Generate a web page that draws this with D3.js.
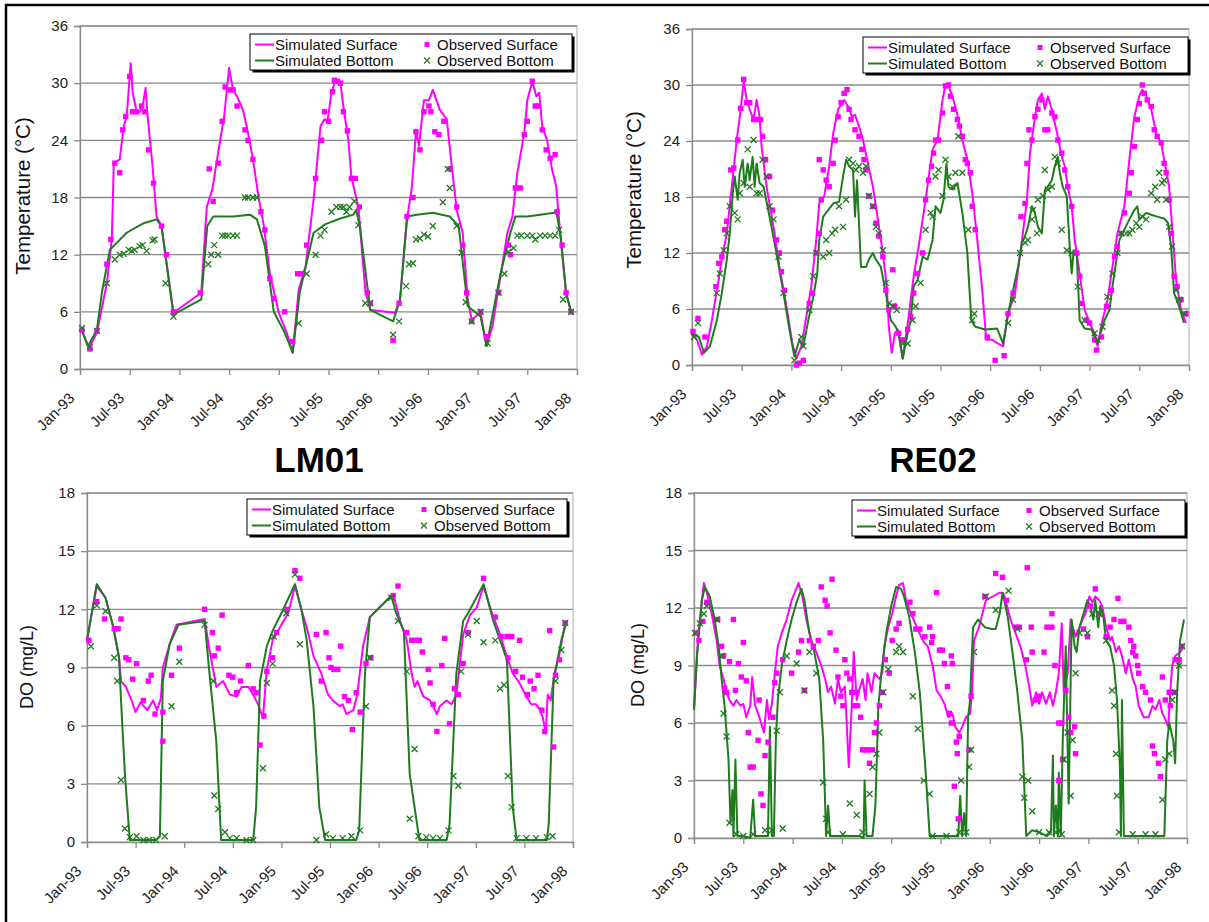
<!DOCTYPE html>
<html><head><meta charset="utf-8">
<script src="https://cdn.jsdelivr.net/npm/d3@7"></script>
<style>body{margin:0;background:#fff} text{font-family:Arial,"Liberation Sans",sans-serif}</style>
</head><body><svg id="c" width="1209" height="922"></svg>
<script>
// ---------- tick labels ----------
const xTickLabels = ["Jan-93","Jul-93","Jan-94","Jul-94","Jan-95","Jul-95","Jan-96","Jul-96","Jan-97","Jul-97","Jan-98"];
const tempTicks = [0,6,12,18,24,30,36];
const doTicks = [0,3,6,9,12,15,18];
const legendLabels = ["Simulated Surface","Observed Surface","Simulated Bottom","Observed Bottom"];
const stationTitles = ["LM01","RE02"];

// ---------- data: [years since Jan-93, value] ----------
const lm01TempSimSurf = [[0.01,4.3],[0.09,2.2],[0.17,3.8],[0.27,9],[0.32,13.6],[0.34,21.6],[0.40,22],[0.44,25.5],[0.47,26.5],[0.51,32.1],[0.53,29],[0.57,27],[0.60,27],[0.63,27.6],[0.66,29.5],[0.68,26.5],[0.73,21.3],[0.77,16],[0.82,15],[0.94,5.9],[1.22,8],[1.275,17],[1.33,18.8],[1.39,22.7],[1.45,26.5],[1.50,31.6],[1.54,29.3],[1.58,28.6],[1.64,27.2],[1.69,24.8],[1.74,22],[1.80,17.8],[1.85,15],[1.91,10],[2.0,5.9],[2.08,3.8],[2.14,1.7],[2.20,8.3],[2.27,10.8],[2.35,17.8],[2.42,25.5],[2.46,26.2],[2.49,26],[2.53,29],[2.57,30.3],[2.62,30],[2.65,27.5],[2.70,24],[2.73,20.2],[2.80,17],[2.87,8.3],[2.92,6.2],[3.17,5.9],[3.22,7.3],[3.29,15.7],[3.34,19.2],[3.38,25],[3.41,23.4],[3.46,28.2],[3.51,28.2],[3.55,29.3],[3.62,27.2],[3.69,26.2],[3.74,21.3],[3.79,16.7],[3.85,14.3],[3.90,7.3],[3.94,5.2],[4.03,5.9],[4.09,2.4],[4.15,4.5],[4.23,9.7],[4.30,14.3],[4.35,16],[4.40,20.6],[4.47,24.8],[4.50,28.2],[4.55,30.2],[4.59,28.6],[4.62,29],[4.65,25.5],[4.70,24],[4.75,20.9],[4.79,19.2],[4.84,13.2],[4.89,8],[4.94,6]];
const lm01TempSimBot = [[0.01,4.3],[0.08,2.4],[0.17,4.1],[0.22,8],[0.30,12.5],[0.47,14.3],[0.64,15.3],[0.77,15.7],[0.82,15],[0.94,5.7],[1.22,7.3],[1.28,15],[1.34,16],[1.54,16],[1.71,16.2],[1.78,15.7],[1.86,12.9],[1.95,6],[2.06,3.8],[2.14,1.7],[2.21,8],[2.35,14.3],[2.47,15.2],[2.62,15.8],[2.75,16.2],[2.78,16.7],[2.82,14.6],[2.92,6.2],[3.15,5],[3.22,7.3],[3.29,16],[3.39,16.2],[3.55,16.4],[3.72,16],[3.81,15],[3.90,6.6],[4.03,5.5],[4.09,2.4],[4.23,10],[4.33,14.3],[4.38,16],[4.50,16],[4.63,16.2],[4.77,16.4],[4.79,16.7],[4.84,13.6],[4.89,8],[4.94,6]];
const lm01TempObsSurf = [[0.02,4.1],[0.10,2.1],[0.17,4],[0.27,11],[0.31,13.6],[0.35,21.6],[0.40,20.6],[0.43,25.1],[0.46,26.5],[0.50,30.7],[0.53,27],[0.57,27],[0.62,27.6],[0.65,27],[0.69,23],[0.74,19.5],[0.82,15],[0.87,12],[0.94,6],[1.21,8],[1.30,21],[1.34,17.6],[1.39,21.6],[1.43,26],[1.46,29.6],[1.51,29.3],[1.54,29.3],[1.58,27.6],[1.66,25.1],[1.69,24],[1.74,22],[1.82,16.5],[1.86,14.6],[1.91,9.5],[1.95,7.4],[2.06,6],[2.14,2.9],[2.19,10],[2.23,10],[2.28,13],[2.37,20],[2.43,24],[2.46,27],[2.50,26],[2.54,29.1],[2.56,30.3],[2.59,30.2],[2.62,30],[2.65,27],[2.69,25],[2.73,20],[2.77,20],[2.81,17],[2.89,8],[2.92,6.9],[3.15,3],[3.21,6.9],[3.29,16],[3.35,18],[3.38,24.9],[3.42,23],[3.46,27],[3.51,27.6],[3.53,27],[3.57,24.9],[3.61,24.6],[3.66,26],[3.72,21],[3.79,17],[3.85,13],[3.89,8],[3.94,5],[4.03,6],[4.09,3.4],[4.21,8],[4.31,13],[4.33,12],[4.38,19],[4.43,19],[4.47,24.6],[4.50,26],[4.55,30.2],[4.58,27.6],[4.61,27.6],[4.65,25.1],[4.69,23],[4.73,22.1],[4.78,22.5],[4.80,16.5],[4.85,13],[4.89,8],[4.94,6]];
const lm01TempObsBot = [[0.02,4.3],[0.10,2.3],[0.17,4],[0.27,9],[0.35,11.5],[0.40,12],[0.44,12.1],[0.49,12.5],[0.52,12.4],[0.55,12.5],[0.60,12.9],[0.63,13],[0.67,12.4],[0.73,13.5],[0.75,13.6],[0.86,9],[0.94,5.5],[1.29,11],[1.32,12],[1.35,13],[1.39,12],[1.43,14],[1.46,14],[1.49,14],[1.54,14],[1.58,14],[1.66,18],[1.69,18],[1.74,18],[1.78,18],[2.20,4.8],[2.28,10],[2.37,12],[2.42,14],[2.46,14.6],[2.53,16.5],[2.58,17],[2.62,17],[2.65,17],[2.68,16.5],[2.71,17],[2.76,17.6],[2.80,15.1],[2.87,6.9],[2.92,6.9],[3.15,3.6],[3.21,5],[3.28,8.7],[3.31,11],[3.35,11.1],[3.38,13.6],[3.42,13.7],[3.46,14.1],[3.50,13.9],[3.55,15],[3.65,17.5],[3.70,21],[3.72,19],[3.79,15],[3.84,12.2],[3.88,7],[3.94,5],[4.03,6],[4.10,2.7],[4.21,8],[4.27,10],[4.31,12.3],[4.36,12.7],[4.40,14],[4.44,14],[4.50,14],[4.55,14],[4.58,13.6],[4.63,14],[4.68,14],[4.73,14],[4.78,14],[4.82,14.6],[4.86,7.3],[4.94,6]];

const re02TempSimSurf = [[0,3.4],[0.05,2.7],[0.10,1.1],[0.15,2.0],[0.20,4.8],[0.25,8.0],[0.30,11.3],[0.35,14.1],[0.40,19.1],[0.45,24.1],[0.49,27.4],[0.52,30.4],[0.55,28.4],[0.58,27.4],[0.62,26.3],[0.65,28.4],[0.68,26.6],[0.70,23.4],[0.75,19.1],[0.82,14.8],[0.88,10.5],[0.95,6.3],[1.01,2.3],[1.05,0.7],[1.10,2.0],[1.15,5.2],[1.20,8.4],[1.25,13.4],[1.28,17.3],[1.33,18.1],[1.38,21.3],[1.42,24.8],[1.47,27.4],[1.53,28.4],[1.57,27.7],[1.61,26.6],[1.64,26.8],[1.68,25.6],[1.72,24.1],[1.77,21.6],[1.82,19.1],[1.87,15.6],[1.92,12.0],[1.96,8.4],[1.98,4.1],[2.01,1.3],[2.04,3.4],[2.07,3.8],[2.12,0.7],[2.18,5.2],[2.23,9.5],[2.28,12.7],[2.35,17.7],[2.42,23.1],[2.47,24.1],[2.52,28.4],[2.55,30.0],[2.58,29.9],[2.62,28.8],[2.67,26.8],[2.72,24.1],[2.77,22.0],[2.82,18.4],[2.87,13.4],[2.92,8.0],[2.96,2.7],[3.02,2.7],[3.08,2.3],[3.13,2.0],[3.18,5.5],[3.25,7.7],[3.32,13.4],[3.37,17.7],[3.40,22.7],[3.45,26.6],[3.48,28.4],[3.52,29.1],[3.55,27.4],[3.58,28.8],[3.62,27.4],[3.65,25.9],[3.68,24.5],[3.72,22.3],[3.75,21.3],[3.78,19.1],[3.82,17.0],[3.85,13.4],[3.90,9.8],[3.95,5.9],[4.00,4.5],[4.05,3.4],[4.08,2.0],[4.13,4.8],[4.18,7.0],[4.23,10.5],[4.28,14.1],[4.35,17.0],[4.40,22.0],[4.45,26.6],[4.50,28.8],[4.53,29.5],[4.57,28.8],[4.62,27.4],[4.67,24.8],[4.72,23.8],[4.75,22.0],[4.80,19.1],[4.83,14.8],[4.87,9.1],[4.92,5.9],[4.97,4.5]];
const re02TempSimBot = [[0,3.4],[0.07,3.0],[0.12,1.3],[0.18,2.0],[0.25,4.8],[0.30,7.7],[0.35,11.3],[0.38,14.1],[0.41,18.4],[0.43,20.2],[0.46,17.7],[0.48,20.6],[0.51,22.0],[0.53,19.1],[0.56,21.6],[0.58,19.8],[0.61,22.3],[0.63,19.1],[0.65,21.6],[0.68,19.5],[0.72,19.1],[0.78,15.9],[0.85,12.0],[0.92,7.7],[0.98,3.8],[1.03,0.9],[1.08,2.7],[1.12,2.0],[1.17,4.8],[1.22,7.3],[1.26,9.8],[1.28,13.4],[1.32,15.9],[1.37,16.6],[1.42,17.3],[1.48,17.5],[1.52,20.2],[1.55,22.0],[1.58,21.3],[1.62,20.9],[1.64,15.9],[1.66,19.8],[1.68,15.2],[1.70,10.5],[1.75,10.5],[1.78,11.3],[1.82,12.0],[1.85,11.3],[1.90,10.5],[1.95,7.7],[2.0,4.8],[2.05,4.1],[2.08,3.4],[2.12,0.7],[2.17,3.4],[2.20,4.8],[2.23,8.4],[2.27,9.1],[2.32,11.6],[2.37,11.3],[2.42,13.4],[2.45,17.0],[2.50,16.3],[2.53,17.7],[2.56,21.6],[2.58,19.1],[2.62,18.8],[2.67,19.5],[2.72,16.3],[2.77,12.0],[2.81,4.8],[2.85,4.1],[2.95,3.8],[3.07,3.9],[3.13,2.3],[3.18,5.5],[3.23,8.0],[3.28,10.5],[3.32,13.1],[3.35,13.8],[3.38,14.8],[3.42,17.0],[3.45,16.3],[3.48,14.8],[3.52,14.1],[3.55,18.8],[3.58,19.1],[3.62,19.8],[3.65,21.3],[3.68,22.3],[3.70,20.6],[3.73,19.1],[3.77,18.1],[3.80,12.7],[3.82,9.8],[3.84,12.3],[3.87,12.0],[3.90,4.8],[3.95,3.9],[4.02,3.8],[4.08,2.3],[4.15,4.8],[4.20,5.9],[4.23,8.4],[4.27,11.3],[4.30,13.4],[4.35,14.5],[4.40,15.6],[4.45,16.6],[4.48,17.0],[4.50,15.6],[4.53,15.9],[4.57,16.3],[4.62,16.1],[4.68,15.9],[4.75,15.7],[4.79,15.2],[4.82,12.7],[4.85,7.7],[4.90,6.3],[4.95,4.5]];
const re02TempObsSurf = [[0.01,3.6],[0.06,5.0],[0.13,3.0],[0.24,8.4],[0.27,10.9],[0.30,11.6],[0.33,14.5],[0.35,15.4],[0.39,20.9],[0.42,21.1],[0.46,24.1],[0.49,27.5],[0.52,30.6],[0.55,28.1],[0.58,28.1],[0.62,26.3],[0.65,26.3],[0.69,26.3],[0.71,24.5],[0.74,22.0],[0.78,20.2],[0.81,16.6],[0.85,13.4],[0.88,12.0],[0.90,10.0],[0.93,8.0],[1.05,0],[1.08,0.2],[1.12,0.5],[1.18,6.6],[1.21,7.7],[1.25,12.0],[1.28,14.1],[1.30,17.7],[1.28,22],[1.32,20.9],[1.35,19.8],[1.38,19.1],[1.42,21.6],[1.44,24.1],[1.47,26.6],[1.50,28.1],[1.53,29.1],[1.56,29.5],[1.58,27.4],[1.60,26.3],[1.64,25.2],[1.68,24.5],[1.71,23.1],[1.73,22.0],[1.75,20.9],[1.78,18.1],[1.82,17.0],[1.85,15.2],[1.88,13.8],[1.92,11.6],[1.95,8.0],[1.98,5.9],[2.02,10.2],[2.04,6.3],[2.08,3.4],[2.12,2.7],[2.17,3.8],[2.20,5.2],[2.23,7.7],[2.27,9.8],[2.32,12.0],[2.35,17.7],[2.38,19.8],[2.41,21.3],[2.43,22.7],[2.45,24.1],[2.48,24.1],[2.52,27.0],[2.55,29.9],[2.58,30.0],[2.60,28.8],[2.63,27.4],[2.67,26.3],[2.69,25.6],[2.72,24.5],[2.75,22.0],[2.77,21.6],[2.80,20.6],[2.82,17.0],[2.85,14.5],[2.97,3.0],[3.05,0.5],[3.14,1.0],[3.18,5.5],[3.23,7.7],[3.31,15.9],[3.35,17.3],[3.37,21.6],[3.39,25.2],[3.42,24.1],[3.45,26.6],[3.48,27.4],[3.52,28.4],[3.55,25.2],[3.58,25.2],[3.62,27.0],[3.65,26.6],[3.68,24.1],[3.72,22.7],[3.75,20.9],[3.78,19.1],[3.82,17.0],[3.87,12.0],[3.90,9.5],[3.92,6.6],[3.97,4.8],[4.0,4.5],[4.05,2.7],[4.07,1.6],[4.12,3.0],[4.17,6.3],[4.22,8.0],[4.25,11.6],[4.28,12.7],[4.32,14.1],[4.35,16.3],[4.40,18.4],[4.42,20.6],[4.45,23.4],[4.48,26.3],[4.50,28.0],[4.53,30.0],[4.55,29.1],[4.58,28.4],[4.62,27.7],[4.65,25.2],[4.68,24.5],[4.72,23.8],[4.75,21.6],[4.77,20.6],[4.80,17.7],[4.82,14.1],[4.85,9.5],[4.88,8.4],[4.92,7.0],[4.97,5.5]];
const re02TempObsBot = [[0.02,3.0],[0.06,4.5],[0.25,7.7],[0.28,9.8],[0.32,12.3],[0.35,14.1],[0.38,17.0],[0.43,16.3],[0.46,15.6],[0.48,18.4],[0.52,19.5],[0.56,23.1],[0.58,19.1],[0.62,24.1],[0.65,18.4],[0.68,18.4],[0.71,22.0],[0.75,20.2],[0.78,17.0],[0.82,15.6],[0.87,11.6],[0.92,7.7],[1.03,0.5],[1.10,3.0],[1.12,2.0],[1.18,5.9],[1.22,9.5],[1.25,12.0],[1.32,11.6],[1.35,13.4],[1.38,12.0],[1.41,14.1],[1.44,14.5],[1.48,17.0],[1.52,14.8],[1.55,17.7],[1.58,22.0],[1.62,21.6],[1.65,20.9],[1.68,21.3],[1.72,20.6],[1.75,21.3],[1.78,18.1],[1.82,17.0],[1.85,14.8],[1.88,14.1],[1.92,12.3],[1.95,8.8],[1.98,6.6],[2.02,6.3],[2.06,5.9],[2.12,2.3],[2.17,2.3],[2.22,4.8],[2.25,6.3],[2.30,8.8],[2.35,14.5],[2.40,16.3],[2.42,15.9],[2.45,20.2],[2.48,20.9],[2.52,18.1],[2.55,22.0],[2.58,20.2],[2.62,19.1],[2.65,20.6],[2.68,24.5],[2.72,20.6],[2.78,14.5],[2.82,4.8],[2.84,5.5],[3.18,4.5],[3.23,7.0],[3.30,12.0],[3.35,13.1],[3.38,13.4],[3.42,15.6],[3.43,16.6],[3.47,14.1],[3.48,17.7],[3.53,18.1],[3.55,20.9],[3.58,18.8],[3.62,19.1],[3.65,22.3],[3.68,21.6],[3.72,14.5],[3.77,12.3],[3.82,12.0],[3.88,8.4],[3.95,4.8],[4.05,3.4],[4.08,2.7],[4.13,4.1],[4.18,7.3],[4.23,9.8],[4.28,12.0],[4.32,14.1],[4.37,14.1],[4.40,14.1],[4.43,14.5],[4.47,15.2],[4.50,14.8],[4.53,15.9],[4.57,15.6],[4.62,18.4],[4.66,19.1],[4.68,17.7],[4.70,20.6],[4.73,19.5],[4.75,19.8],[4.77,17.7],[4.80,14.8],[4.83,12.7],[4.87,8.0],[4.90,7.0],[4.95,5.5]];

const lm01DoSimSurf = [[0,10.4],[0.10,13.2],[0.19,12.6],[0.27,11.1],[0.33,9.5],[0.35,8.3],[0.40,8.0],[0.46,7.3],[0.50,6.7],[0.55,7.2],[0.62,6.8],[0.68,7.3],[0.72,6.8],[0.76,7.4],[0.78,9.0],[0.85,10.2],[0.92,11.2],[1.21,11.5],[1.26,9.9],[1.33,8.0],[1.40,8.3],[1.47,7.6],[1.54,7.5],[1.59,8.0],[1.66,8.0],[1.71,7.6],[1.76,7.1],[1.81,6.4],[1.85,8.9],[1.91,10.4],[2.0,11.2],[2.07,11.8],[2.14,13.2],[2.21,11.9],[2.26,11.1],[2.33,9.6],[2.41,8.7],[2.48,7.6],[2.53,7.3],[2.60,7.0],[2.63,7.1],[2.67,6.6],[2.74,6.8],[2.78,7.6],[2.84,10.1],[2.91,11.6],[3.11,12.6],[3.15,12.8],[3.22,11.4],[3.29,10.4],[3.34,8.7],[3.37,8.0],[3.40,8.3],[3.46,7.5],[3.53,7.3],[3.60,6.6],[3.63,7.0],[3.70,7.3],[3.75,7.1],[3.80,7.6],[3.87,10.7],[3.94,11.7],[4.01,12.1],[4.08,13.2],[4.16,11.9],[4.25,10.7],[4.31,9.7],[4.38,8.7],[4.45,8.2],[4.52,7.5],[4.57,7.1],[4.62,7.1],[4.66,6.8],[4.69,6.4],[4.72,5.6],[4.74,7.6],[4.77,7.3],[4.81,8.7],[4.86,9.7],[4.92,11.3]];
const lm01DoSimBot = [[0,10.4],[0.10,13.3],[0.19,12.6],[0.27,11.1],[0.33,9.5],[0.35,7.3],[0.39,3.5],[0.44,0.1],[0.71,0.1],[0.75,0.3],[0.78,8.3],[0.85,10.2],[0.94,11.2],[1.21,11.4],[1.26,8.7],[1.33,5.2],[1.38,0.1],[1.71,0.1],[1.74,1.8],[1.78,8.3],[1.85,10.1],[1.91,10.9],[2.0,11.8],[2.14,13.3],[2.21,11.9],[2.26,10.4],[2.33,7.0],[2.39,1.8],[2.45,0.1],[2.77,0.1],[2.80,0.6],[2.86,8.7],[2.91,11.6],[3.13,12.7],[3.18,11.8],[3.26,10.9],[3.32,3.5],[3.37,1.8],[3.42,0.1],[3.70,0.1],[3.73,0.9],[3.80,8.7],[3.87,11.4],[3.92,11.8],[4.08,13.3],[4.18,11.4],[4.32,9.4],[4.38,1.8],[4.42,0.1],[4.73,0.1],[4.75,0.9],[4.80,8.3],[4.88,10.4],[4.93,11.3]];
const lm01DoObsSurf = [[0.02,10.4],[0.10,12.4],[0.18,11.5],[0.28,11.0],[0.32,11.0],[0.35,11.5],[0.40,9.5],[0.43,9.4],[0.47,8.4],[0.51,9.2],[0.58,7.3],[0.63,8.3],[0.66,8.6],[0.70,6.6],[0.78,5.2],[0.78,6.7],[0.87,8.6],[0.95,10.0],[1.21,12.0],[1.29,10.8],[1.31,9.6],[1.35,10.0],[1.39,11.7],[1.46,8.6],[1.50,8.5],[1.54,7.7],[1.58,8.3],[1.66,9.1],[1.71,7.9],[1.74,7.7],[1.78,5.0],[1.82,6.5],[1.85,8.8],[1.91,9.5],[1.95,10.8],[2.06,12.0],[2.14,14.0],[2.19,13.6],[2.36,10.7],[2.41,8.3],[2.46,10.8],[2.49,9.5],[2.51,9.0],[2.54,8.9],[2.58,8.9],[2.61,10.1],[2.65,7.5],[2.69,7.3],[2.73,5.8],[2.77,7.7],[2.81,6.7],[2.87,9.2],[2.92,9.5],[3.15,12.7],[3.20,13.2],[3.29,10.8],[3.34,10.4],[3.38,10.4],[3.42,10.4],[3.45,9.8],[3.51,8.9],[3.53,8.2],[3.56,7.1],[3.60,5.7],[3.65,9.1],[3.68,10.5],[3.73,6.1],[3.78,7.9],[3.82,7.6],[3.87,9.2],[3.92,10.8],[4.08,13.6],[4.20,11.6],[4.26,10.6],[4.32,10.6],[4.37,10.6],[4.33,9.5],[4.45,10.4],[4.41,8.8],[4.48,8.5],[4.56,8.3],[4.60,7.9],[4.53,7.6],[4.64,8.6],[4.68,6.8],[4.71,5.7],[4.76,10.9],[4.80,4.9],[4.82,8.6],[4.86,9.4],[4.92,11.3]];
const lm01DoObsBot = [[0.04,10.1],[0.10,12.2],[0.19,11.9],[0.28,9.5],[0.31,8.3],[0.35,3.2],[0.39,0.7],[0.44,0.25],[0.51,0.3],[0.58,0.1],[0.64,0.1],[0.71,0.1],[0.80,0.3],[0.87,7.0],[0.95,9.3],[1.21,11.2],[1.30,8.3],[1.31,2.4],[1.35,1.7],[1.42,0.5],[1.47,0.2],[1.54,0.2],[1.64,0.1],[1.71,0.1],[1.81,3.8],[1.85,8.2],[1.91,9.2],[1.92,10.6],[2.05,11.8],[2.14,13.8],[2.19,10.2],[2.36,0.1],[2.46,0.4],[2.53,0.2],[2.63,0.2],[2.72,0.3],[2.81,0.6],[2.87,7.0],[2.91,9.5],[3.13,12.6],[3.20,11.4],[3.29,8.8],[3.37,4.8],[3.32,1.2],[3.41,0.3],[3.49,0.25],[3.56,0.2],[3.63,0.2],[3.72,0.6],[3.77,3.4],[3.82,2.9],[3.85,8.8],[3.92,10.7],[4.01,11.4],[4.08,10.3],[4.20,10.4],[4.25,7.9],[4.29,8.1],[4.33,3.4],[4.37,1.8],[4.42,0.2],[4.52,0.2],[4.62,0.2],[4.73,0.25],[4.79,0.3],[4.82,8.3],[4.88,9.9],[4.92,11.3]];

const re02DoSimSurf = [[0,6.7],[0.04,10.3],[0.08,12.4],[0.10,13.3],[0.13,12.8],[0.18,11.7],[0.23,10.3],[0.26,9.0],[0.30,8.3],[0.33,7.6],[0.36,7.2],[0.40,6.9],[0.43,7.2],[0.47,6.9],[0.50,7.0],[0.53,6.3],[0.57,6.9],[0.59,8.4],[0.62,6.9],[0.65,6.5],[0.68,6.0],[0.71,5.5],[0.74,7.2],[0.76,6.2],[0.79,7.0],[0.82,8.6],[0.85,10.0],[0.89,10.7],[0.94,11.4],[0.99,12.4],[1.06,13.3],[1.10,12.6],[1.14,11.4],[1.19,10.3],[1.24,9.7],[1.29,9.0],[1.33,8.3],[1.36,7.6],[1.39,7.9],[1.43,7.0],[1.46,8.3],[1.49,7.6],[1.53,7.9],[1.54,6.9],[1.57,3.7],[1.60,6.9],[1.62,9.7],[1.65,7.2],[1.67,7.6],[1.71,8.3],[1.74,7.2],[1.76,8.6],[1.80,7.6],[1.83,8.6],[1.88,8.3],[1.91,8.6],[1.93,10.0],[1.97,11.0],[2.01,11.7],[2.04,12.4],[2.08,13.2],[2.12,13.3],[2.15,12.4],[2.20,11.7],[2.27,10.9],[2.32,10.3],[2.37,10.0],[2.42,9.0],[2.46,7.7],[2.50,7.4],[2.54,7.0],[2.58,6.3],[2.62,6.5],[2.65,5.8],[2.69,5.5],[2.72,5.8],[2.76,6.3],[2.80,6.5],[2.82,7.6],[2.84,10.3],[2.89,11.0],[2.96,12.4],[3.03,12.6],[3.10,12.8],[3.13,12.8],[3.15,12.6],[3.21,11.4],[3.26,10.7],[3.31,10.0],[3.36,9.0],[3.40,7.9],[3.43,6.9],[3.47,7.6],[3.50,7.0],[3.53,7.6],[3.57,7.0],[3.61,7.6],[3.64,6.9],[3.67,7.6],[3.70,8.6],[3.73,11.2],[3.75,7.6],[3.79,8.6],[3.82,11.4],[3.87,10.5],[3.91,11.0],[3.94,11.4],[3.97,11.7],[4.01,12.6],[4.04,12.3],[4.07,12.6],[4.11,12.4],[4.14,12.1],[4.18,11.0],[4.22,10.3],[4.24,10.5],[4.28,9.7],[4.31,10.0],[4.34,9.5],[4.38,8.6],[4.41,9.3],[4.45,8.3],[4.48,7.9],[4.51,6.9],[4.56,6.3],[4.61,6.3],[4.65,6.9],[4.68,6.7],[4.72,7.2],[4.75,6.5],[4.78,6.2],[4.81,5.8],[4.83,7.6],[4.85,9.0],[4.88,9.5],[4.93,9.7],[4.97,10.0]];
const re02DoSimBot = [[0,6.7],[0.03,9.5],[0.08,12.4],[0.11,13.1],[0.16,12.6],[0.21,11.4],[0.25,10.0],[0.28,8.3],[0.31,6.9],[0.35,4.1],[0.37,0.8],[0.39,2.5],[0.40,0.1],[0.42,4.1],[0.44,0.1],[0.50,0.1],[0.57,0],[0.60,2.0],[0.62,0.1],[0.70,0.1],[0.75,0.1],[0.77,5.8],[0.79,0.1],[0.81,0.1],[0.83,5.1],[0.85,7.2],[0.89,9.0],[0.94,10.3],[0.99,11.4],[1.04,12.3],[1.09,13.0],[1.12,12.4],[1.17,10.7],[1.22,9.7],[1.27,8.3],[1.31,5.1],[1.34,0.1],[1.36,1.7],[1.38,0.1],[1.48,0.1],[1.58,0.1],[1.68,0.1],[1.72,0],[1.73,3.0],[1.75,0.1],[1.81,0.1],[1.84,1.7],[1.87,6.9],[1.90,8.6],[1.95,10.7],[2.0,12.1],[2.05,13.1],[2.10,13.0],[2.13,12.6],[2.18,11.6],[2.24,9.7],[2.29,7.6],[2.32,5.5],[2.35,3.4],[2.39,0.1],[2.52,0.1],[2.65,0.1],[2.68,0.1],[2.70,2.2],[2.72,0.1],[2.74,1.3],[2.76,0.1],[2.78,6.3],[2.80,7.2],[2.83,11.0],[2.88,11.4],[2.95,11.0],[3.02,10.9],[3.06,10.9],[3.10,11.7],[3.13,12.8],[3.18,11.6],[3.23,9.7],[3.28,7.6],[3.33,5.1],[3.37,0.1],[3.43,0.4],[3.50,0.3],[3.58,0.1],[3.62,0.3],[3.64,4.3],[3.65,0.1],[3.67,1.7],[3.69,0.1],[3.70,3.4],[3.72,0.1],[3.74,5.1],[3.77,10.0],[3.80,1.8],[3.83,11.4],[3.86,10.0],[3.88,9.7],[3.91,11.0],[3.95,11.7],[3.99,12.4],[4.02,12.1],[4.05,11.4],[4.07,12.4],[4.10,11.0],[4.12,12.1],[4.15,11.6],[4.18,10.3],[4.22,10.0],[4.26,9.0],[4.29,7.2],[4.32,3.7],[4.33,0.1],[4.34,7.2],[4.36,0.1],[4.44,0.1],[4.58,0.1],[4.71,0.1],[4.77,0.1],[4.80,5.1],[4.82,6.0],[4.86,5.1],[4.88,3.9],[4.90,7.6],[4.93,10.3],[4.97,11.4]];
const re02DoObsSurf = [[0.02,10.7],[0.05,10.3],[0.09,11.3],[0.13,12.3],[0.24,11.4],[0.28,10.0],[0.30,9.5],[0.31,7.8],[0.33,7.6],[0.36,9.2],[0.40,11.4],[0.42,7.7],[0.45,9.1],[0.48,8.4],[0.50,10.2],[0.53,8.2],[0.55,5.5],[0.57,3.7],[0.60,3.7],[0.65,5.1],[0.66,7.2],[0.68,2.3],[0.70,1.7],[0.72,4.3],[0.75,5.0],[0.80,6.3],[0.82,8.1],[0.84,8.6],[0.90,9.3],[0.99,8.6],[1.06,9.7],[1.09,10.3],[1.12,7.7],[1.17,10.3],[1.21,10.0],[1.26,10.3],[1.29,13.1],[1.33,12.4],[1.35,12.1],[1.38,10.7],[1.40,13.5],[1.44,9.8],[1.46,8.4],[1.49,7.4],[1.51,6.9],[1.53,9.3],[1.55,8.6],[1.58,8.3],[1.60,7.6],[1.62,6.9],[1.65,7.6],[1.66,6.9],[1.69,6.3],[1.71,4.6],[1.74,4.6],[1.76,4.6],[1.78,3.9],[1.81,4.6],[1.83,5.5],[1.85,6.0],[1.88,6.9],[1.91,7.6],[1.94,9.3],[1.98,8.6],[2.01,10.3],[2.05,10.9],[2.08,11.2],[2.19,12.3],[2.22,11.7],[2.25,10.9],[2.29,10.9],[2.34,10.5],[2.39,11.0],[2.42,10.5],[2.46,12.8],[2.41,10.2],[2.49,9.8],[2.52,9.8],[2.54,9.1],[2.61,9.5],[2.62,9.1],[2.57,7.9],[2.59,6.5],[2.61,6.0],[2.66,5.0],[2.67,4.4],[2.69,5.3],[2.64,2.7],[2.68,1.0],[2.81,7.4],[2.79,4.6],[2.95,12.6],[3.06,13.8],[3.13,13.6],[3.17,12.4],[3.26,11.0],[3.30,11.0],[3.38,14.1],[3.42,11.0],[3.43,9.7],[3.37,9.3],[3.46,7.2],[3.50,7.4],[3.55,9.7],[3.58,11.0],[3.63,11.7],[3.63,11.0],[3.66,9.0],[3.70,6.0],[3.73,6.0],[3.74,4.1],[3.70,3.0],[3.77,7.7],[3.80,6.3],[3.82,5.5],[3.86,5.8],[3.87,4.4],[3.95,10.9],[3.99,10.5],[4.02,12.1],[4.07,13.0],[4.11,11.7],[4.18,10.5],[4.22,11.0],[4.26,11.4],[4.30,12.5],[4.33,11.3],[4.36,11.3],[4.41,11.0],[4.43,10.3],[4.45,9.7],[4.46,10.0],[4.48,9.5],[4.50,9.0],[4.51,8.6],[4.55,7.9],[4.58,7.6],[4.63,7.2],[4.65,4.8],[4.67,4.4],[4.71,3.9],[4.73,3.2],[4.75,8.4],[4.78,7.2],[4.82,7.6],[4.83,6.9],[4.87,7.6],[4.88,9.3],[4.92,9.3],[4.95,10.0]];
const re02DoObsBot = [[0.01,10.7],[0.06,11.2],[0.10,11.7],[0.13,12.1],[0.23,11.4],[0.28,9.5],[0.30,6.5],[0.33,5.3],[0.36,0.8],[0.43,0.2],[0.50,0.1],[0.60,0.2],[0.72,0.4],[0.79,0.4],[0.84,5.6],[0.87,7.6],[0.90,0.5],[0.94,9.5],[1.04,9.1],[1.12,7.7],[1.17,9.7],[1.24,8.6],[1.31,2.9],[1.34,1.0],[1.36,0.3],[1.51,0.2],[1.58,1.8],[1.65,1.2],[1.71,0.3],[1.78,2.3],[1.81,3.7],[1.85,4.4],[1.88,5.5],[1.92,7.6],[1.97,8.8],[2.05,9.7],[2.08,10.0],[2.12,9.7],[2.22,7.4],[2.27,5.7],[2.33,3.0],[2.39,2.3],[2.42,0.1],[2.56,0.1],[2.69,0.3],[2.71,3.0],[2.76,0.3],[2.79,3.7],[2.81,4.6],[2.84,9.7],[2.96,12.6],[3.06,11.9],[3.19,12.9],[3.28,10.9],[3.33,3.2],[3.35,2.1],[3.39,3.0],[3.43,1.4],[3.50,0.3],[3.60,0.3],[3.67,0.3],[3.70,0.4],[3.73,0.2],[3.75,4.1],[3.79,5.5],[3.82,2.2],[3.84,5.1],[3.87,8.6],[3.91,10.7],[3.99,10.7],[4.04,11.7],[4.11,11.7],[4.18,10.3],[4.24,7.7],[4.26,6.9],[4.28,4.4],[4.29,2.2],[4.31,0.3],[4.45,0.2],[4.58,0.2],[4.68,0.2],[4.75,2.0],[4.78,4.1],[4.82,4.4],[4.85,7.2],[4.88,7.6],[4.92,9.0],[4.95,10.0]];

// ---------- drawing ----------
const MAG = "#ff00ff", GRN = "#1e7b1e", GRID = "#8a8a8a";
const FONT = "Arial, Liberation Sans, sans-serif";
const svg = d3.select("#c");
svg.append("rect").attr("width",1209).attr("height",922).attr("fill","#fff");
// figure frame (top and left edges visible)
svg.append("path").attr("d","M6,922V5H1209").attr("fill","none").attr("stroke","#000").attr("stroke-width",2.5);

const panels = [
  {x0:80, x1:577, y0:26, y1:369, ticks:tempTicks, title:"Temperature (°C)", tfs:20.5, tx:30, ty:196,
   lg:{x:250,y:34,w:322,h:36}, ss:lm01TempSimSurf, sb:lm01TempSimBot, os:lm01TempObsSurf, ob:lm01TempObsBot},
  {x0:692, x1:1189, y0:29, y1:365, ticks:tempTicks, title:"Temperature (°C)", tfs:20.5, tx:641, ty:190,
   lg:{x:863,y:37,w:325,h:36}, ss:re02TempSimSurf, sb:re02TempSimBot, os:re02TempObsSurf, ob:re02TempObsBot},
  {x0:87, x1:573, y0:493, y1:842, ticks:doTicks, title:"DO (mg/L)", tfs:18, tx:33, ty:667,
   lg:{x:247,y:499,w:320,h:36}, ss:lm01DoSimSurf, sb:lm01DoSimBot, os:lm01DoObsSurf, ob:lm01DoObsBot},
  {x0:694, x1:1187, y0:493, y1:838, ticks:doTicks, title:"DO (mg/L)", tfs:18, tx:644, ty:665,
   lg:{x:852,y:500,w:333,h:36}, ss:re02DoSimSurf, sb:re02DoSimBot, os:re02DoObsSurf, ob:re02DoObsBot}
];

const xTickPos = xTickLabels.map((d,i)=>i*0.5);

panels.forEach(p => {
  const x = d3.scaleLinear().domain([0,5]).range([p.x0,p.x1]);
  const y = d3.scaleLinear().domain([0,d3.max(p.ticks)]).range([p.y1,p.y0]);
  const g = svg.append("g");
  g.append("rect").attr("x",p.x0).attr("y",p.y0).attr("width",p.x1-p.x0).attr("height",p.y1-p.y0)
    .attr("fill","#fff").attr("stroke","#c8c8c8").attr("stroke-width",1.5);
  g.selectAll("line.grid").data(p.ticks.filter(d=>d>0)).join("line").attr("class","grid")
    .attr("x1",p.x0).attr("x2",p.x1).attr("y1",d=>y(d)).attr("y2",d=>y(d))
    .attr("stroke",GRID).attr("stroke-width",1.3);
  // y axis
  const ya = g.append("g").attr("transform",`translate(${p.x0},0)`)
    .call(d3.axisLeft(y).tickValues(p.ticks).tickSize(6).tickPadding(6).tickFormat(d3.format("d")));
  ya.select(".domain").attr("stroke",GRID).attr("stroke-width",1.3);
  ya.selectAll(".tick line").attr("stroke",GRID).attr("stroke-width",1.3);
  ya.selectAll(".tick text").attr("font-size",15).attr("fill","#222").attr("font-family",FONT);
  // x axis
  const xa = g.append("g").attr("transform",`translate(0,${p.y1})`)
    .call(d3.axisBottom(x).tickValues(xTickPos).tickSize(6).tickFormat((d,i)=>xTickLabels[i]));
  xa.select(".domain").attr("stroke",GRID).attr("stroke-width",1.3);
  xa.selectAll(".tick line").attr("stroke",GRID).attr("stroke-width",1.3);
  xa.selectAll(".tick text").attr("font-size",15).attr("fill","#222").attr("font-family",FONT)
    .attr("text-anchor","end").attr("y",0).attr("dy",0)
    .attr("transform","translate(-5,30) rotate(-45)");
  // axis title
  g.append("text").attr("transform",`translate(${p.tx},${p.ty}) rotate(-90)`)
    .attr("text-anchor","middle").attr("font-size",p.tfs).attr("fill","#111").text(p.title);
  // lines
  const line = d3.line().x(d=>x(d[0])).y(d=>y(d[1]));
  g.append("path").datum(p.ss).attr("d",line).attr("fill","none").attr("stroke",MAG).attr("stroke-width",2).attr("stroke-linejoin","round");
  g.append("path").datum(p.sb).attr("d",line).attr("fill","none").attr("stroke",GRN).attr("stroke-width",2).attr("stroke-linejoin","round");
  // observed
  g.selectAll("rect.os").data(p.os).join("rect").attr("class","os")
    .attr("x",d=>x(d[0])-2.7).attr("y",d=>y(d[1])-2.7).attr("width",5.4).attr("height",5.4).attr("fill",MAG);
  const xs = 3;
  g.selectAll("path.ob").data(p.ob).join("path").attr("class","ob")
    .attr("d",d=>{const cx=x(d[0]), cy=y(d[1]); return `M${cx-xs},${cy-xs}L${cx+xs},${cy+xs}M${cx-xs},${cy+xs}L${cx+xs},${cy-xs}`;})
    .attr("stroke",GRN).attr("stroke-width",1.3).attr("fill","none");
  // legend
  const L = p.lg;
  g.append("rect").attr("x",L.x+2.5).attr("y",L.y+2.5).attr("width",L.w).attr("height",L.h).attr("fill","#000");
  g.append("rect").attr("x",L.x).attr("y",L.y).attr("width",L.w).attr("height",L.h).attr("fill","#fff").attr("stroke","#000").attr("stroke-width",1);
  const r1 = L.y + 10.5, r2 = L.y + 26.5;
  const mx = L.x + 177;
  g.append("line").attr("x1",L.x+5).attr("x2",L.x+24).attr("y1",r1).attr("y2",r1).attr("stroke",MAG).attr("stroke-width",2);
  g.append("line").attr("x1",L.x+5).attr("x2",L.x+24).attr("y1",r2).attr("y2",r2).attr("stroke",GRN).attr("stroke-width",2);
  g.append("rect").attr("x",mx-2.5).attr("y",r1-2.5).attr("width",5).attr("height",5).attr("fill",MAG);
  g.append("path").attr("d",`M${mx-3},${r2-3}L${mx+3},${r2+3}M${mx-3},${r2+3}L${mx+3},${r2-3}`).attr("stroke",GRN).attr("stroke-width",1.2);
  const tpos = [[L.x+25,r1],[mx+10,r1],[L.x+25,r2],[mx+10,r2]];
  g.selectAll("text.lg").data(legendLabels).join("text").attr("class","lg")
    .attr("x",(d,i)=>tpos[i][0]).attr("y",(d,i)=>tpos[i][1]).attr("dy","0.36em")
    .attr("font-size",15).attr("fill","#111").text(d=>d);
});

// station titles
svg.selectAll("text.st").data(stationTitles).join("text").attr("class","st")
  .attr("x",(d,i)=>[319,933][i]).attr("y",472).attr("text-anchor","middle")
  .attr("font-size",35).attr("font-weight","bold").attr("fill","#000").text(d=>d);
</script></body></html>
